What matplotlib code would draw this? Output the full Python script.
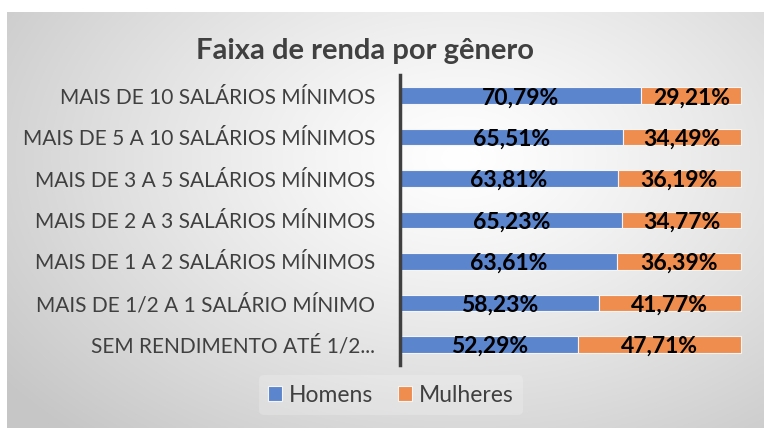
import numpy as np
import matplotlib
matplotlib.use("Agg")
from matplotlib import pyplot as plt

categories = [
    "SEM RENDIMENTO ATÉ 1/2...",
    "MAIS DE 1/2 A 1 SALÁRIO MÍNIMO",
    "MAIS DE 1 A 2 SALÁRIOS MÍNIMOS",
    "MAIS DE 2 A 3 SALÁRIOS MÍNIMOS",
    "MAIS DE 3 A 5 SALÁRIOS MÍNIMOS",
    "MAIS DE 5 A 10 SALÁRIOS MÍNIMOS",
    "MAIS DE 10 SALÁRIOS MÍNIMOS",
]
homens = [52.29, 58.23, 63.61, 65.23, 63.81, 65.51, 70.79]
mulheres = [47.71, 41.77, 36.39, 34.77, 36.19, 34.49, 29.21]
series_names = ["Homens", "Mulheres"]

blue = "#5B85CC"
orange = "#EE8D4E"
font = "Lato"

W, H = 764, 428
fig = plt.figure(figsize=(W / 100, H / 100), dpi=100)
fig.patch.set_facecolor("white")

# background with radial gradient (chart area)
bx0, by0 = 7 / W, 0
bg = fig.add_axes([bx0, by0, 1 - bx0, 1 - 12 / H])
yy, xx = np.mgrid[0:1:300j, 0:1:500j]
r = np.sqrt(((xx - 0.6) / 0.75) ** 2 + ((yy - 0.35) / 0.9) ** 2)
shade = np.clip(1.0 - 0.22 * r ** 1.2, 0.78, 1.0)
img = np.dstack([shade, shade, shade])
bg.imshow(img, extent=[0, 1, 0, 1], origin="upper", aspect="auto")
bg.axis("off")

# main bars
ax = fig.add_axes([400 / W, 1 - 365 / H, 343 / W, (365 - 75) / H])
ax.set_facecolor("none")
y = np.arange(len(categories))
b1 = ax.barh(y, homens, height=0.4, color=blue, edgecolor="#f5f5f5",
             linewidth=0.8, label=series_names[0])
b2 = ax.barh(y, mulheres, left=homens, height=0.4, color=orange,
             edgecolor="#f5f5f5", linewidth=0.8, label=series_names[1])

for i in range(len(categories)):
    ax.text(homens[i] / 2, y[i] - 0.05, f"{homens[i]:.2f}%".replace(".", ","),
            ha="center", va="center", fontsize=16.5, fontweight="bold",
            family=font, color="black")
    ax.text(homens[i] + mulheres[i] / 2, y[i] - 0.05,
            f"{mulheres[i]:.2f}%".replace(".", ","),
            ha="center", va="center", fontsize=16.5, fontweight="bold",
            family=font, color="black")

ax.set_xlim(0, 100.6)
ax.set_ylim(-0.5, len(categories) - 0.5)
ax.set_yticks(y)
ax.set_yticklabels(categories, family=font, fontsize=15, color="#404040")
ax.tick_params(axis="y", length=0, pad=18)
ax.set_xticks([])
for s in ["top", "right", "bottom"]:
    ax.spines[s].set_visible(False)
ax.spines["left"].set_color("#404040")
ax.spines["left"].set_linewidth(2.5)

fig.text(365 / W, 1 - 51 / H, "Faixa de renda por gênero", ha="center",
         va="center", fontsize=21, fontweight="bold", family=font,
         color="#404040")

leg = fig.legend(handles=[b1, b2], labels=series_names, loc="center",
                 bbox_to_anchor=(391 / W, 1 - 395 / H), ncol=2,
                 frameon=True, handlelength=0.6,
                 handleheight=0.6, handletextpad=0.3, columnspacing=1.1,
                 prop={"family": font, "size": 16.5})
leg.get_frame().set_facecolor("white")
leg.get_frame().set_alpha(0.2)
leg.get_frame().set_edgecolor("none")
for t in leg.get_texts():
    t.set_color("#404040")

fig.savefig("out.png", dpi=100)
